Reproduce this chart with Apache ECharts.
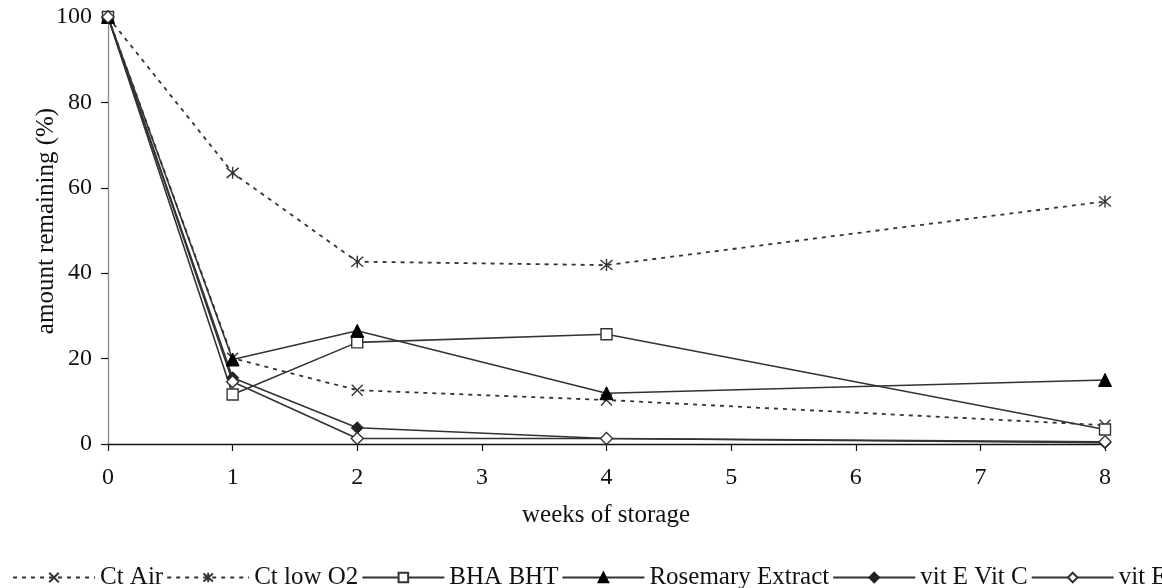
<!DOCTYPE html>
<html>
<head>
<meta charset="utf-8">
<script src="https://cdn.jsdelivr.net/npm/echarts@6/dist/echarts.min.js"></script>
<style>
  html, body { margin: 0; padding: 0; background: #fff; }
  #chart { width: 1162px; height: 588px; }
</style>
</head>
<body>
<div id="chart"></div>
<script>
// Storage weeks at which samples were measured
const weeks = [0, 1, 2, 4, 8];

// Amount remaining (%) per treatment
const ctAir       = [100, 20.1, 12.6, 10.3, 4.4];
const ctLowO2     = [100, 63.5, 42.7, 41.9, 56.8];
const bhaBht      = [100, 11.6, 23.8, 25.7, 3.4];
const rosemary    = [100, 19.8, 26.5, 11.9, 15.0];
const vitEVitC    = [100, 15.5, 3.8, 1.3, 0.3];
const vitE        = [100, 14.6, 1.3, 1.3, 0.5];

// Axis tick values
const xTicks = [0, 1, 2, 3, 4, 5, 6, 7, 8];
const yTicks = [0, 20, 40, 60, 80, 100];

const FONT = 'Liberation Serif';
const INK = '#333333';

const X_PATH = 'path://M0,0L10,10M10,0L0,10';
const STAR_PATH = 'path://M0,0L10,10M10,0L0,10M5,-1L5,11';

function pairs(vals) {
  return weeks.map((w, i) => [w, vals[i]]);
}

function series(name, vals, opts) {
  return Object.assign({
    name: name,
    type: 'line',
    data: pairs(vals),
    symbolSize: 10,
    lineStyle: { color: INK, width: 1.6, type: 'solid' },
    emphasis: { disabled: true },
    animation: false,
    z: 2
  }, opts);
}

const chart = echarts.init(document.getElementById('chart'), null, { renderer: 'canvas' });

chart.setOption({
  backgroundColor: '#ffffff',
  animation: false,
  grid: { left: 108, right: 57, top: 17, bottom: 144, containLabel: false },
  xAxis: {
    type: 'value',
    min: xTicks[0],
    max: xTicks[xTicks.length - 1],
    interval: 1,
    axisLine: { show: true, onZero: false, lineStyle: { color: '#111', width: 1.3 } },
    axisTick: { show: true, inside: false, length: 7, lineStyle: { color: '#111', width: 1.2 } },
    axisLabel: { color: '#111', fontFamily: FONT, fontSize: 24, margin: 22 },
    splitLine: { show: false }
  },
  yAxis: {
    type: 'value',
    min: yTicks[0],
    max: yTicks[yTicks.length - 1],
    interval: 20,
    axisLine: { show: true, lineStyle: { color: '#888', width: 1.3 } },
    axisTick: { show: true, inside: false, length: 7, lineStyle: { color: '#111', width: 1.2 } },
    axisLabel: { color: '#111', fontFamily: FONT, fontSize: 24, margin: 16 },
    splitLine: { show: false }
  },
  legend: {
    left: 7,
    top: 560,
    width: 2400,
    orient: 'horizontal',
    itemWidth: 82,
    itemHeight: 12,
    itemGap: 3,
    selectedMode: false,
    textStyle: { color: '#111', fontFamily: FONT, fontSize: 25 },
    data: ['Ct Air', 'Ct low O2', 'BHA BHT', 'Rosemary Extract', 'vit E Vit C', 'vit E']
  },
  graphic: [
    {
      type: 'text',
      x: 606, y: 515,
      style: { text: 'weeks of storage', font: '25px "Liberation Serif"', fill: '#111', align: 'center', verticalAlign: 'middle' }
    },
    {
      type: 'text',
      x: 46, y: 221,
      rotation: Math.PI / 2,
      style: { text: 'amount remaining (%)', font: '25px "Liberation Serif"', fill: '#111', align: 'center', verticalAlign: 'middle' }
    }
  ],
  series: [
    series('Ct Air', ctAir, {
      symbol: X_PATH, symbolSize: 11,
      lineStyle: { color: INK, width: 1.8, type: [4, 5] },
      itemStyle: { color: INK, borderColor: INK, borderWidth: 1.4 }
    }),
    series('Ct low O2', ctLowO2, {
      symbol: STAR_PATH, symbolSize: 12,
      lineStyle: { color: INK, width: 1.8, type: [4, 5] },
      itemStyle: { color: INK, borderColor: INK, borderWidth: 1.4 }
    }),
    series('BHA BHT', bhaBht, {
      symbol: 'rect', symbolSize: 11,
      itemStyle: { color: '#fff', borderColor: INK, borderWidth: 1.4 }
    }),
    series('Rosemary Extract', rosemary, {
      symbol: 'triangle', symbolSize: 13,
      itemStyle: { color: '#000', borderColor: '#000', borderWidth: 1 }
    }),
    series('vit E Vit C', vitEVitC, {
      symbol: 'diamond', symbolSize: 12,
      itemStyle: { color: '#222', borderColor: '#222', borderWidth: 1 }
    }),
    series('vit E', vitE, {
      symbol: 'diamond', symbolSize: 12,
      itemStyle: { color: '#fff', borderColor: INK, borderWidth: 1.4 }
    })
  ]
});
</script>
</body>
</html>
